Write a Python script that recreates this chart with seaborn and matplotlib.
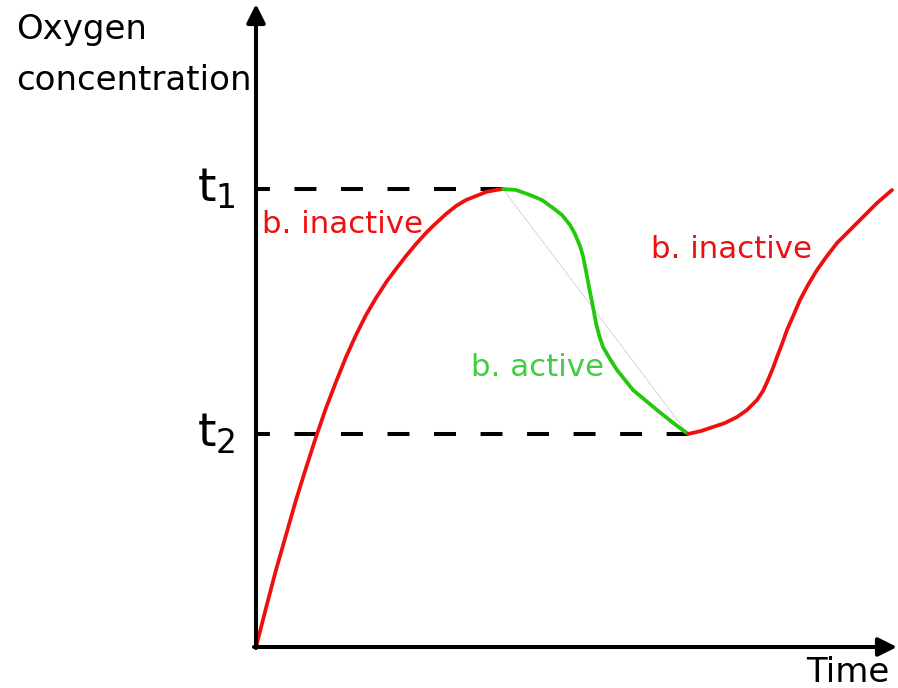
import matplotlib
matplotlib.use('Agg')
import matplotlib.pyplot as plt
import seaborn as sns

sns.set_style('white')
plt.rcParams['font.family'] = ['DejaVu Sans']
plt.rcParams['mathtext.fontset'] = 'dejavusans'
plt.rcParams['text.color'] = 'black'

# levels of the two thresholds
t1_level = 458
t2_level = 213

# first rise (bacteria inactive)
rise_time = [0, 10, 20, 30, 40, 50, 60, 70, 80, 90, 100, 110, 120, 131, 140,
             150, 160, 170, 177, 190, 200, 210, 220, 230, 240, 247]
rise_oxy = [0, 39, 77, 112, 147, 179, 210, 239, 265, 290, 312, 332, 349, 366, 378,
            391, 403, 414, 421, 433, 441, 447, 451, 455, 457, 458]

# drop (bacteria active)
drop_time = [247, 260, 274, 286, 297, 306, 314, 319, 324, 327, 330, 334, 337, 340,
             343, 347, 354, 361, 369, 377, 389, 401, 416, 432]
drop_oxy = [458, 457, 452, 447, 439, 432, 422, 413, 401, 391, 376, 355, 340, 324,
            312, 300, 288, 277, 267, 257, 247, 237, 225, 213]

# second rise (bacteria inactive)
rise2_time = [432, 445, 457, 469, 481, 491, 501, 507, 512, 517, 521, 526, 531, 538,
              544, 552, 561, 571, 581, 594, 607, 621, 636]
rise2_oxy = [213, 216, 220, 224, 230, 237, 247, 256, 267, 279, 290, 303, 317, 333,
             347, 362, 377, 391, 404, 417, 430, 444, 457]

red = '#ee0f0f'
green = '#22c80a'
green_txt = '#3dcf3d'

fig = plt.figure(figsize=(8.98, 6.88), dpi=100)
ax = fig.add_axes([0, 0, 1, 1])
ax.set_xlim(-256, 642)
ax.set_ylim(-41, 647)
ax.axis('off')

# dashed threshold lines
dash = (2.0, (5.45, 6.1))
ax.plot([0, drop_time[0]], [t1_level, t1_level], color='black', lw=2.9, linestyle=dash)
ax.plot([0, drop_time[-1]], [t2_level, t2_level], color='black', lw=2.9, linestyle=dash)

# faint chord under the drop
ax.plot([drop_time[0], drop_time[-1]], [drop_oxy[0], drop_oxy[-1]], color='#d0d0d0', lw=0.6)

kw = dict(lw=2.7, ax=ax, sort=False, legend=False)
sns.lineplot(x=rise_time, y=rise_oxy, color=red, **kw)
sns.lineplot(x=drop_time, y=drop_oxy, color=green, **kw)
sns.lineplot(x=rise2_time, y=rise2_oxy, color=red, **kw)
for ln in ax.lines[3:]:
    ln.set_solid_joinstyle('round')

# axes with arrows
arrow = dict(arrowstyle='-|>,head_length=0.4,head_width=0.2', lw=2.9, color='black',
             mutation_scale=28, shrinkA=0, shrinkB=0)
ax.annotate('', xy=(0, 643), xytext=(0, -1), arrowprops=arrow)
ax.annotate('', xy=(641, 0), xytext=(-2, 0), arrowprops=arrow)

fs = 24.5
lfs = 22.2
ax.text(-240, 608, 'Oxygen', fontsize=fs, va='baseline')
ax.text(-240, 557, 'concentration', fontsize=fs, va='baseline')
ax.text(550, -35, 'Time', fontsize=fs, va='baseline')
ax.text(-20, t1_level, r'$\mathrm{t_1}$', fontsize=34, ha='right', va='center')
ax.text(-20, t2_level, r'$\mathrm{t_2}$', fontsize=34, ha='right', va='center')
ax.text(6, 414, 'b. inactive', fontsize=lfs, color=red, va='baseline')
ax.text(395, 389, 'b. inactive', fontsize=lfs, color=red, va='baseline')
ax.text(215, 271, 'b. active', fontsize=lfs, color=green_txt, va='baseline')

fig.savefig('out.png', dpi=100)
